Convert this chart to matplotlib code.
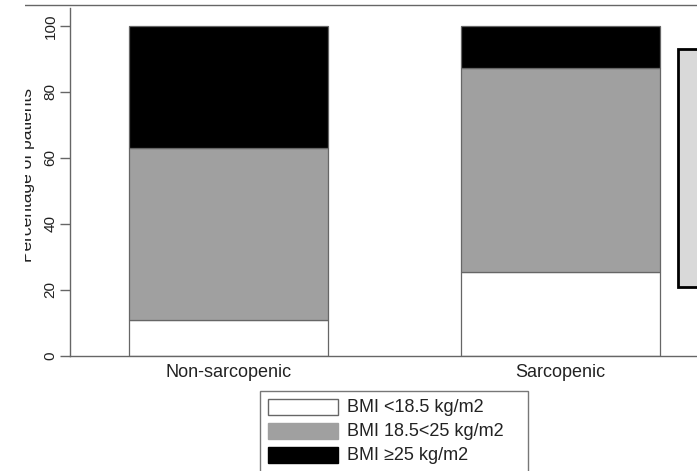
import matplotlib
matplotlib.use("Agg")
import matplotlib.pyplot as plt
from matplotlib.patches import Rectangle
from matplotlib.lines import Line2D
import numpy as np

plt.rcParams['font.family'] = ['Liberation Sans', 'DejaVu Sans']

# data (percent of patients per BMI group)
groups = ["Non-sarcopenic", "Sarcopenic"]
bmi_labels = ["BMI <18.5 kg/m2", "BMI 18.5<25 kg/m2", "BMI \u226525 kg/m2"]
bmi_under = [11, 25.5]
bmi_normal = [52, 61.8]
bmi_over = [37, 12.7]
colors = ["#ffffff", "#a0a0a0", "#000000"]

W, H = 697, 471


def fx(x):
    return x / W


def fy(y):
    return 1 - y / H


fig = plt.figure(figsize=(W / 100, H / 100), dpi=100)
ax = fig.add_axes([fx(70), fy(356), fx(697) - fx(70), fy(8) - fy(356)])

x = np.arange(len(groups))
bottom = np.zeros(len(groups))
for vals, c in zip([bmi_under, bmi_normal, bmi_over], colors):
    ax.bar(x, vals, width=0.6, bottom=bottom, color=c, edgecolor="#666666", linewidth=0.9)
    bottom += np.array(vals)

ax.set_xlim(-0.478, 1.413)
ax.set_ylim(0, 105.45)
ax.set_xticks(x)
ax.set_xticklabels(groups, fontsize=13, color="#222222")
ax.tick_params(axis="x", length=0, pad=6)
ax.set_yticks([0, 20, 40, 60, 80, 100])
ax.set_yticklabels(["0", "20", "40", "60", "80", "100"], rotation=90, va="center",
                   fontsize=11, color="#222222")
ax.tick_params(axis="y", length=7, width=1, color="#666666", pad=2)
for s in ["top", "right"]:
    ax.spines[s].set_visible(False)
for s in ["left", "bottom"]:
    ax.spines[s].set_color("#666666")
    ax.spines[s].set_linewidth(1)

# y label, partly cut at the left edge like the source image
fig.text(fx(28), fy(175), "Percentage of patients", rotation=90, ha="center", va="center",
         fontsize=12.5, color="#222222")
fig.add_artist(Rectangle((0, 0), fx(25), 1, transform=fig.transFigure,
                         facecolor="white", edgecolor="none", zorder=10))

# thin line along the top
fig.add_artist(Line2D([fx(25), 1], [fy(5), fy(5)], transform=fig.transFigure,
                      color="#666666", linewidth=1))

# cut-off box on the right
fig.add_artist(Rectangle((fx(678), fy(287)), fx(40), fy(49) - fy(287), transform=fig.transFigure,
                         facecolor="#d9d9d9", edgecolor="black", linewidth=2, zorder=5))

# legend at the bottom (cut by image edge)
fig.add_artist(Rectangle((fx(260), fy(490)), fx(528) - fx(260), fy(391) - fy(490),
                         transform=fig.transFigure, facecolor="white",
                         edgecolor="#777777", linewidth=1))
for i, (lab, c) in enumerate(zip(bmi_labels, colors)):
    yc = 407 + i * 24
    fig.add_artist(Rectangle((fx(268), fy(yc + 8)), fx(338) - fx(268), fy(yc - 8) - fy(yc + 8),
                             transform=fig.transFigure, facecolor=c,
                             edgecolor="#666666" if c == "#ffffff" else c, linewidth=1))
    fig.text(fx(347), fy(yc), lab, ha="left", va="center", fontsize=13, color="#222222")

fig.savefig("out.png", dpi=100)
